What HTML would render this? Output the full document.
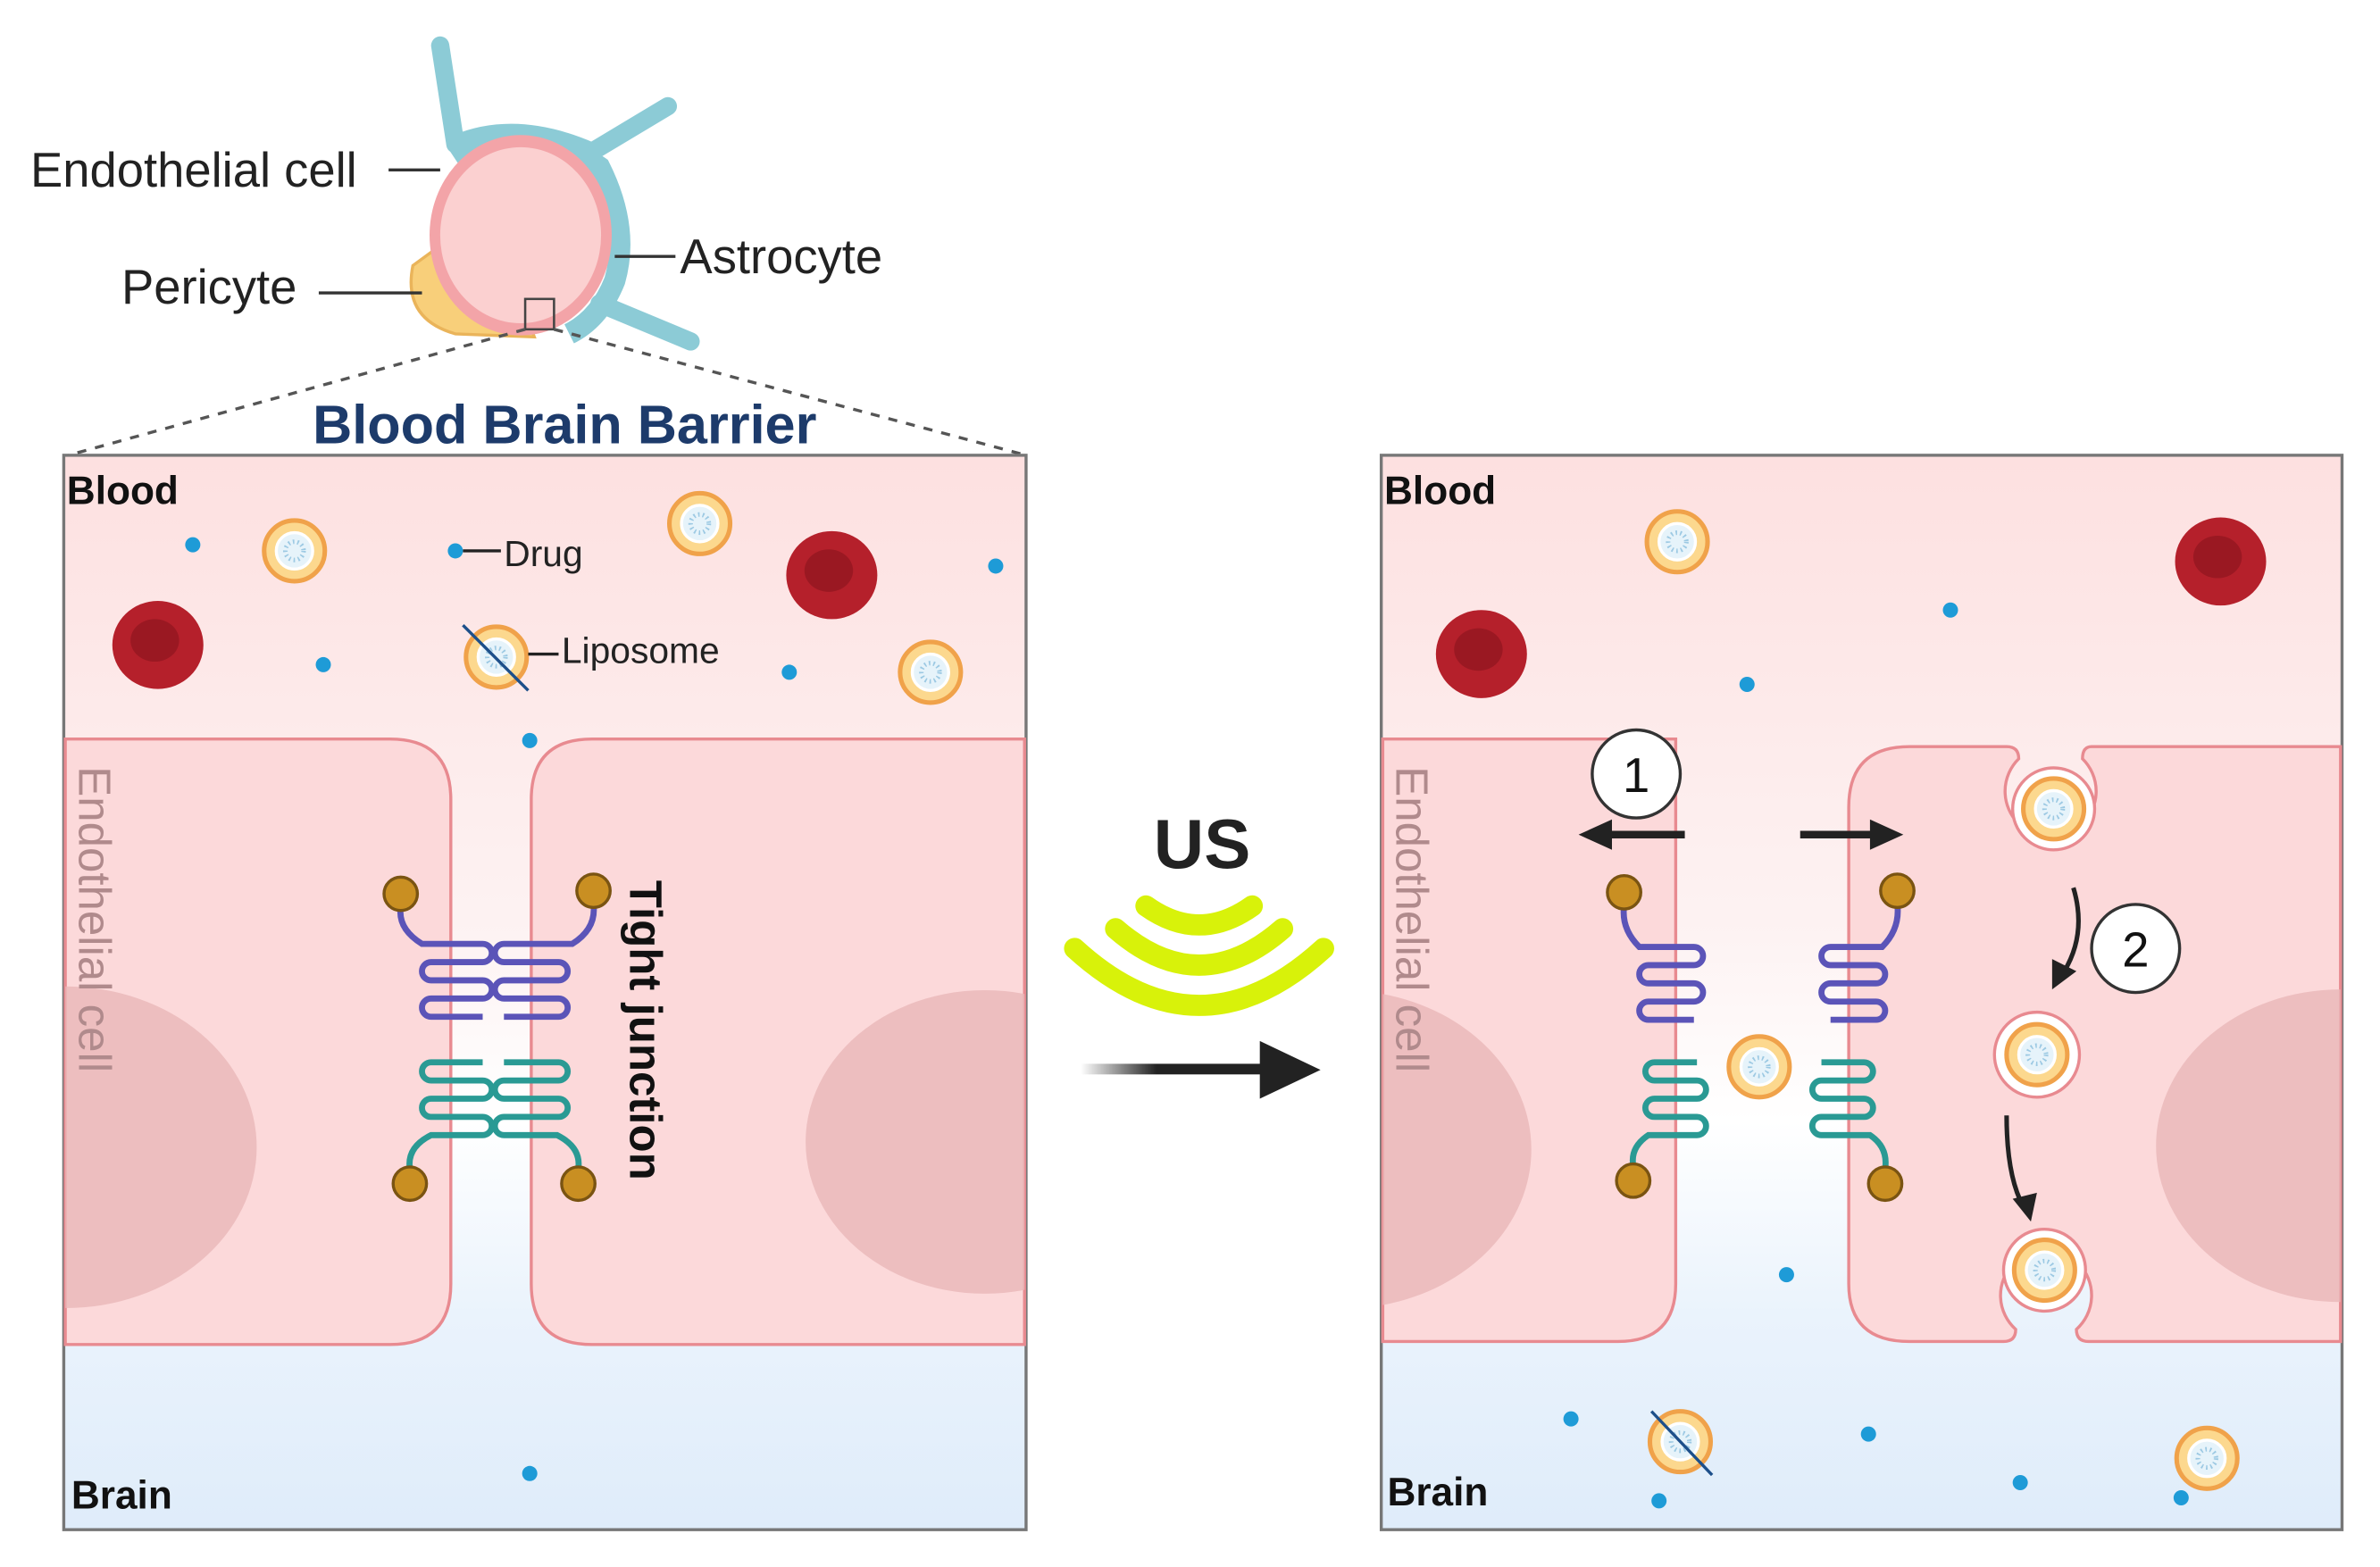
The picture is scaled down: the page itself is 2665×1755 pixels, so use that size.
<!DOCTYPE html>
<html><head><meta charset="utf-8"><style>html,body{margin:0;padding:0;background:#fff}svg{display:block}</style></head>
<body>
<svg width="2665" height="1755" viewBox="0 0 1568 1032.6" xmlns="http://www.w3.org/2000/svg" font-family="Liberation Sans, sans-serif">
<defs>
<linearGradient id="bg" x1="0" y1="0" x2="0" y2="1">
<stop offset="0" stop-color="#fde0e0"/><stop offset="0.45" stop-color="#fdf3f3"/><stop offset="0.62" stop-color="#ffffff"/><stop offset="0.8" stop-color="#eaf3fc"/><stop offset="1" stop-color="#dfecfa"/></linearGradient>
<g id="lipo"><circle r="20" fill="#fcd88e" stroke="#f0a24a" stroke-width="3"/><circle r="12" fill="#e6f3fa" stroke="#fff" stroke-width="2"/><circle r="6" fill="none" stroke="#9cc9e3" stroke-width="3" stroke-dasharray="1 2"/></g>
<g id="rbc"><ellipse rx="30" ry="29" fill="#b5202b"/><ellipse rx="16" ry="14" cx="-2" cy="-3" fill="#8e1620" opacity="0.7"/></g>
</defs>
<rect width="1568" height="1033" fill="#fff"/>

<!-- top vessel -->
<g>
<path d="M290 30 L300 95 M300 95 Q340 78 390 100 L440 70" stroke="#8ccbd6" stroke-width="12" fill="none" stroke-linecap="round"/>
<path d="M395 200 L455 225" stroke="#8ccbd6" stroke-width="12" fill="none" stroke-linecap="round"/>
<path d="M272 175 Q265 210 300 220 L352 222 L320 140 Z" fill="#f8cf7a" stroke="#eab45a" stroke-width="2"/>
<path d="M300 105 Q345 75 395 110 Q415 150 405 185 Q395 210 375 220" fill="none" stroke="#8ccbd6" stroke-width="14"/>
<ellipse cx="343" cy="155" rx="60" ry="66" fill="#f3a4a8"/>
<ellipse cx="343" cy="155" rx="53" ry="58" fill="#fbd0d0"/>
<rect x="346" y="197" width="19" height="20" fill="none" stroke="#444" stroke-width="1.5"/>
</g>
<g font-size="32" fill="#222">
<text x="20" y="123">Endothelial cell</text>
<text x="80" y="200">Pericyte</text>
<text x="448" y="180">Astrocyte</text>
</g>
<g stroke="#333" stroke-width="2">
<line x1="256" y1="112" x2="290" y2="112"/><line x1="210" y1="193" x2="278" y2="193"/><line x1="405" y1="169" x2="445" y2="169"/>
</g>
<g stroke="#555" stroke-width="2" stroke-dasharray="6 6">
<line x1="346" y1="217" x2="45" y2="300"/><line x1="365" y1="217" x2="676" y2="300"/>
</g>
<text x="372" y="292" font-size="36" font-weight="bold" fill="#1d3b6b" text-anchor="middle">Blood Brain Barrier</text>

<!-- LEFT PANEL -->
<rect x="42" y="300" width="634" height="708" fill="url(#bg)" stroke="#777" stroke-width="2"/>
<path d="M43 487 H257 Q297 487 297 527 V846 Q297 886 257 886 H43 Z" fill="#fcd9da" stroke="#e88a90" stroke-width="2"/>
<path d="M675 487 H390 Q350 487 350 527 V846 Q350 886 390 886 H675 Z" fill="#fcd9da" stroke="#e88a90" stroke-width="2"/>
<path d="M43 650 A125 105 0 0 1 43 862 Z" fill="#e9b6b8" opacity="0.8"/>
<path d="M675 655 A118 100 0 1 0 675 850 Z" fill="#e9b6b8" opacity="0.8"/>
<text transform="translate(52 505) rotate(90)" font-size="30" fill="#b08a8c">Endothelial cell</text>
<text transform="translate(415 580) rotate(90)" font-size="30" font-weight="bold" fill="#111">Tight junction</text>
<g fill="none" stroke-width="4">
<path d="M264 598 Q262 612 278 622 H318 a6 6 0 0 1 0 12 H284 a6 6 0 0 0 0 12 H318 a6 6 0 0 1 0 12 H284 a6 6 0 0 0 0 12 H318" stroke="#5b54b8"/>
<path d="M391 596 Q393 612 377 622 H332 a6 6 0 0 0 0 12 H368 a6 6 0 0 1 0 12 H332 a6 6 0 0 0 0 12 H368 a6 6 0 0 1 0 12 H332" stroke="#5b54b8"/>
<path d="M270 770 Q268 756 284 748 H318 a6 6 0 0 0 0 -12 H284 a6 6 0 0 1 0 -12 H318 a6 6 0 0 0 0 -12 H284 a6 6 0 0 1 0 -12 H318" stroke="#2a9a94"/>
<path d="M381 770 Q383 756 367 748 H332 a6 6 0 0 1 0 -12 H368 a6 6 0 0 0 0 -12 H332 a6 6 0 0 1 0 -12 H368 a6 6 0 0 0 0 -12 H332" stroke="#2a9a94"/>
</g>
<g fill="#c98f22" stroke="#7a5412" stroke-width="2">
<circle cx="264" cy="589" r="11"/><circle cx="391" cy="587" r="11"/><circle cx="270" cy="780" r="11"/><circle cx="381" cy="780" r="11"/>
</g>
<g font-size="26" fill="#111" font-weight="bold"><text x="44" y="332">Blood</text><text x="47" y="994">Brain</text></g>
<g fill="#1e9bd7">
<circle cx="127" cy="359" r="5"/><circle cx="300" cy="363" r="5"/><circle cx="213" cy="438" r="5"/><circle cx="349" cy="488" r="5"/><circle cx="520" cy="443" r="5"/><circle cx="656" cy="373" r="5"/><circle cx="349" cy="971" r="5"/>
</g>
<use href="#rbc" x="104" y="425"/><use href="#rbc" x="548" y="379"/>
<use href="#lipo" x="194" y="363"/><use href="#lipo" x="461" y="345"/><use href="#lipo" x="613" y="443"/><use href="#lipo" x="327" y="433"/>
<line x1="305" y1="412" x2="348" y2="455" stroke="#1d4f8a" stroke-width="2"/>
<g font-size="24" fill="#222"><text x="332" y="373">Drug</text><text x="370" y="437">Liposome</text></g>
<g stroke="#222" stroke-width="2"><line x1="305" y1="363" x2="330" y2="363"/><line x1="348" y1="431" x2="368" y2="431"/></g>

<!-- middle -->
<text x="792" y="572" font-size="46" font-weight="bold" fill="#222" text-anchor="middle">US</text>
<g fill="none" stroke="#d8f20a" stroke-linecap="round">
<path d="M755 597 Q790 622 825 597" stroke-width="14"/>
<path d="M735 612 Q790 660 845 612" stroke-width="14"/>
<path d="M708 625 Q790 700 872 625" stroke-width="14"/>
</g>
<defs><linearGradient id="ag" x1="0" x2="1"><stop offset="0" stop-color="#222" stop-opacity="0"/><stop offset="0.4" stop-color="#222"/></linearGradient></defs>
<rect x="712" y="701" width="125" height="7" fill="url(#ag)"/>
<path d="M830 686 L870 705 L830 724 Z" fill="#222"/>

<!-- RIGHT PANEL -->
<rect x="910" y="300" width="633" height="708" fill="url(#bg)" stroke="#777" stroke-width="2"/>
<path d="M911 487 H1104 V846 Q1104 884 1066 884 H911 Z" fill="#fcd9da" stroke="#e88a90" stroke-width="2"/>
<path d="M1542 492 H1378 Q1372 492 1372 500 A30 30 0 1 1 1330 500 Q1330 492 1322 492 H1258 Q1218 492 1218 532 V846 Q1218 884 1258 884 H1320 Q1328 884 1328 876 A30 30 0 1 1 1368 876 Q1368 884 1376 884 H1542 Z" fill="#fcd9da" stroke="#e88a90" stroke-width="2"/>
<path d="M911 655 A125 105 0 0 1 911 860 Z" fill="#e9b6b8" opacity="0.8"/>
<path d="M1542 652 A118 100 0 1 0 1542 858 Z" fill="#e9b6b8" opacity="0.8"/>
<text transform="translate(920 505) rotate(90)" font-size="30" fill="#b08a8c">Endothelial cell</text>
<g fill="none" stroke-width="4">
<path d="M1070 597 Q1068 612 1080 624 H1116 a6 6 0 0 1 0 12 H1086 a6 6 0 0 0 0 12 H1116 a6 6 0 0 1 0 12 H1086 a6 6 0 0 0 0 12 H1116" stroke="#5b54b8"/>
<path d="M1250 596 Q1252 612 1240 624 H1206 a6 6 0 0 0 0 12 H1236 a6 6 0 0 1 0 12 H1206 a6 6 0 0 0 0 12 H1236 a6 6 0 0 1 0 12 H1206" stroke="#5b54b8"/>
<path d="M1076 768 Q1074 756 1086 748 H1118 a6 6 0 0 0 0 -12 H1090 a6 6 0 0 1 0 -12 H1118 a6 6 0 0 0 0 -12 H1090 a6 6 0 0 1 0 -12 H1118" stroke="#2a9a94"/>
<path d="M1242 770 Q1244 756 1232 748 H1200 a6 6 0 0 1 0 -12 H1228 a6 6 0 0 0 0 -12 H1200 a6 6 0 0 1 0 -12 H1228 a6 6 0 0 0 0 -12 H1200" stroke="#2a9a94"/>
</g>
<g fill="#c98f22" stroke="#7a5412" stroke-width="2">
<circle cx="1070" cy="588" r="11"/><circle cx="1250" cy="587" r="11"/><circle cx="1076" cy="778" r="11"/><circle cx="1242" cy="780" r="11"/>
</g>
<g font-size="26" fill="#111" font-weight="bold"><text x="912" y="332">Blood</text><text x="914" y="992">Brain</text></g>
<g fill="#1e9bd7">
<circle cx="1285" cy="402" r="5"/><circle cx="1151" cy="451" r="5"/><circle cx="1177" cy="840" r="5"/><circle cx="1035" cy="935" r="5"/><circle cx="1231" cy="945" r="5"/><circle cx="1331" cy="977" r="5"/><circle cx="1093" cy="989" r="5"/><circle cx="1437" cy="987" r="5"/>
</g>
<use href="#rbc" x="976" y="431"/><use href="#rbc" x="1463" y="370"/>
<circle cx="1353" cy="533" r="27" fill="#fff" stroke="#e88a90" stroke-width="2"/>
<circle cx="1342" cy="695" r="28" fill="#fff" stroke="#e88a90" stroke-width="2"/>
<circle cx="1347" cy="837" r="27" fill="#fff" stroke="#e88a90" stroke-width="2"/>
<use href="#lipo" x="1105" y="357"/><use href="#lipo" x="1159" y="703"/><use href="#lipo" x="1353" y="533"/><use href="#lipo" x="1342" y="695"/><use href="#lipo" x="1347" y="837"/><use href="#lipo" x="1107" y="950"/><use href="#lipo" x="1454" y="961"/>
<line x1="1088" y1="930" x2="1128" y2="972" stroke="#1d4f8a" stroke-width="2"/>
<g stroke="#222" stroke-width="5" fill="none">
<line x1="1110" y1="550" x2="1060" y2="550"/><line x1="1186" y1="550" x2="1236" y2="550"/>
</g>
<path d="M1040 550 L1062 540 L1062 560 Z M1254 550 L1232 540 L1232 560 Z" fill="#222"/>
<path d="M1366 585 Q1375 615 1360 640" stroke="#222" stroke-width="3" fill="none"/><path d="M1352 652 L1352 632 L1368 640 Z" fill="#222"/>
<path d="M1322 735 Q1322 775 1333 795" stroke="#222" stroke-width="3" fill="none"/><path d="M1338 805 L1326 790 L1342 786 Z" fill="#222"/>
<g fill="#fff" stroke="#333" stroke-width="2"><circle cx="1078" cy="510" r="29"/><circle cx="1407" cy="625" r="29"/></g>
<g font-size="32" fill="#111" text-anchor="middle"><text x="1078" y="522">1</text><text x="1407" y="637">2</text></g>
</svg>
</body></html>
